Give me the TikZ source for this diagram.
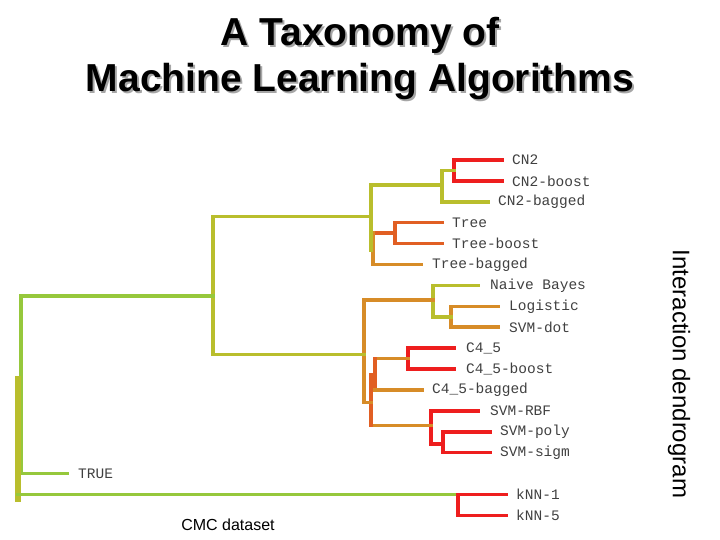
\documentclass[tikz,border=0pt]{standalone}
\usepackage{fontspec}
\setmainfont{Liberation Sans}
\setmonofont{Liberation Mono}
\begin{document}
\begin{tikzpicture}[x=1pt,y=-1pt,line cap=rect,
  br/.style={line width=3.6pt},
  lab/.style={anchor=west,font=\ttfamily\fontsize{14.5}{15}\selectfont,text=black!75,inner sep=0pt}]
\definecolor{cg}{RGB}{150,200,60}
\definecolor{co}{RGB}{185,190,45}
\definecolor{cr}{RGB}{238,30,30}
\definecolor{cor}{RGB}{215,140,40}
\definecolor{cdo}{RGB}{225,95,35}
\useasboundingbox (0,0) rectangle (720,540);
% title
\foreach \t/\yy in {{A Taxonomy of}/35,{Machine Learning Algorithms}/82}{
  \node[font=\bfseries\fontsize{39}{40}\selectfont,text=black!35] at (362,\yy+2) {\t};
  \node[font=\bfseries\fontsize{39}{40}\selectfont] at (360,\yy) {\t};}
\node[rotate=-90,font=\fontsize{24}{25}\selectfont] (side) at (679,374) {Interaction dendrogram};
\node[font=\fontsize{16}{17}\selectfont] (cmc) at (228,525) {CMC dataset};
\def\Y#1{160+20.9*#1}
% CN2 group
\draw[br,cr] (502,{\Y0}) -| (454,{\Y1}) -- (502,{\Y1});
\draw[br,co] (454,{\Y{0.5}}) -- (442,{\Y{0.5}});
\draw[br,co] (442,{\Y{0.5}}) -- (442,{\Y2}) -- (488,{\Y2});
% Tree group
\draw[br,cdo] (442,{\Y3}) -| (395,{\Y4}) -- (442,{\Y4});
\draw[br,cdo] (395,{\Y{3.5}}) -- (373,{\Y{3.5}});
\draw[br,cor] (373,{\Y{3.5}}) -- (373,{\Y5}) -- (421,{\Y5});
% top cluster
\draw[br,co] (442,{\Y{1.2}}) -- (371,{\Y{1.2}}) -- (371,{\Y{4.3}});
\draw[br,co] (371,{\Y{2.7}}) -- (213,{\Y{2.7}}) -- (213,{\Y{9.3}});
\draw[br,cg] (213,{\Y{6.5}}) -- (21,{\Y{6.5}});
% NB group
\draw[br,cor] (498,{\Y7}) -| (451,{\Y8}) -- (498,{\Y8});
\draw[br,co] (478,{\Y6}) -| (433,{\Y{7.5}}) -- (451,{\Y{7.5}});
% C4.5 group
\draw[br,cr] (454,{\Y9}) -| (408,{\Y{10}}) -- (454,{\Y{10}});
\draw[br,cor] (408,{\Y{9.5}}) -- (375,{\Y{9.5}});
\draw[br,cdo] (375,{\Y{9.5}}) -- (375,{\Y{11}});
\draw[br,cor] (375,{\Y{11}}) -- (422,{\Y{11}});
% SVM group
\draw[br,cr] (490,{\Y{13}}) -| (443,{\Y{14}}) -- (490,{\Y{14}});
\draw[br,cr] (478,{\Y{12}}) -| (431,{\Y{13.6}}) -- (443,{\Y{13.6}});
\draw[br,cor] (431,{\Y{12.7}}) -- (371,{\Y{12.7}});
\draw[br,cdo] (371,{\Y{12.7}}) -- (371,{\Y{10.3}});
% lower cluster
\draw[br,cor] (433,{\Y{6.7}}) -- (364,{\Y{6.7}}) -- (364,{\Y{11.6}}) -- (371,{\Y{11.6}});
\draw[br,co] (364,{\Y{9.3}}) -- (213,{\Y{9.3}});
% root
\draw[br,cg] (21,{\Y{6.5}}) -- (21,{\Y{15}}) -- (67,{\Y{15}});
\draw[line width=6pt,co] (18,{\Y{10.5}}) -- (18,{\Y{16.2}});
\draw[br,cg] (18,{\Y{16}}) -- (458,{\Y{16}});
\draw[br,cr] (506,{\Y{16}}) -- (458,{\Y{16}}) -- (458,{\Y{17}}) -- (506,{\Y{17}});
% labels
\node[lab] (l0) at (512,{\Y0}) {CN2};
\node[lab] (l1) at (512,{\Y1}) {CN2-boost};
\node[lab] (l2) at (498,{\Y2}) {CN2-bagged};
\node[lab] (l3) at (452,{\Y3}) {Tree};
\node[lab] (l4) at (452,{\Y4}) {Tree-boost};
\node[lab] (l5) at (432,{\Y5}) {Tree-bagged};
\node[lab] (l6) at (490,{\Y6}) {Naive Bayes};
\node[lab] (l7) at (509,{\Y7}) {Logistic};
\node[lab] (l8) at (509,{\Y8}) {SVM-dot};
\node[lab] (l9) at (466,{\Y9}) {C4\_5};
\node[lab] (l10) at (466,{\Y{10}}) {C4\_5-boost};
\node[lab] (l11) at (432,{\Y{11}}) {C4\_5-bagged};
\node[lab] (l12) at (490,{\Y{12}}) {SVM-RBF};
\node[lab] (l13) at (500,{\Y{13}}) {SVM-poly};
\node[lab] (l14) at (500,{\Y{14}}) {SVM-sigm};
\node[lab] (l15) at (78,{\Y{15}}) {TRUE};
\node[lab] (l16) at (516,{\Y{16}}) {kNN-1};
\node[lab] (l17) at (516,{\Y{17}}) {kNN-5};
\end{tikzpicture}
\end{document}
